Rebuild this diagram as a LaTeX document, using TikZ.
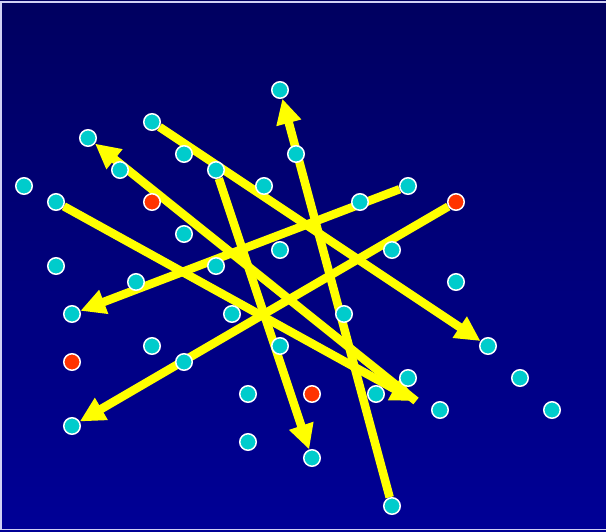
\documentclass[tikz,border=0pt]{standalone}
\usepackage{tikz}
\usetikzlibrary{arrows.meta}
\definecolor{bgtop}{HTML}{000060}
\definecolor{bgbot}{HTML}{000096}
\definecolor{dcyan}{HTML}{00CCCC}
\definecolor{dred}{HTML}{FF3300}
\definecolor{ayellow}{HTML}{FFFF00}
\definecolor{rim}{HTML}{D0D0F4}
\pgfdeclarelayer{bg}
\pgfdeclarelayer{lines}
\pgfsetlayers{bg,lines,main}
\tikzset{
 dot/.style={circle,draw=white,line width=1.5pt,minimum size=16.5pt,inner sep=0pt},
 cyandot/.style={dot,fill=dcyan},
 reddot/.style={dot,fill=dred},
 arrow/.style={-{Triangle[length=25pt,width=24pt]},line width=8.5pt,draw=ayellow}
}
\begin{document}
\begin{tikzpicture}[x=1pt,y=-1pt]
 \useasboundingbox (0,0) rectangle (606,531);
 \begin{pgfonlayer}{bg}
  \shade[top color=bgtop,bottom color=bgbot] (0,0) rectangle (606,531);
  \draw[rim,line width=1.5pt] (606,2) -- (1,2) -- (1,529.5) -- (606,529.5);
 \end{pgfonlayer}
 % cyan points
 \foreach \x/\y/\n in {280/90/c1,152/122/c2,88/138/c3,184/154/c4,296/154/c5,
   120/170/c6,216/170/c7,24/186/c8,264/186/c9,408/186/c10,56/202/c11,
   360/202/c12,184/234/c13,280/250/c14,392/250/c15,56/266/c16,216/266/c17,
   136/282/c18,456/282/c19,72/314/c20,232/314/c21,344/314/c22,152/346/c23,
   280/346/c24,488/346/c25,184/362/c26,408/378/c27,520/378/c28,248/394/c29,
   376/394/c30,440/410/c31,552/410/c32,72/426/c33,248/442/c34,312/458/c35,
   392/506/c36}
  \node[cyandot] (\n) at (\x,\y) {};
 % red points
 \node[reddot] (r1) at (152,202) {};
 \node[reddot] (r2) at (456,202) {};
 \node[reddot] (r3) at (72,362) {};
 \node[reddot] (r4) at (312,394) {};
 \coordinate (meet) at (416,401);
 \begin{pgfonlayer}{lines}
  \draw[arrow] (c36)--(c1);
  \draw[arrow] (c2)--(c25);
  \draw[arrow] (c11)--(meet);
  \draw[arrow] (meet)--(c3);
  \draw[arrow] (c10)--(c20);
  \draw[arrow] (r2)--(c33);
  \draw[arrow] (c7)--(c35);
 \end{pgfonlayer}
\end{tikzpicture}
\end{document}
